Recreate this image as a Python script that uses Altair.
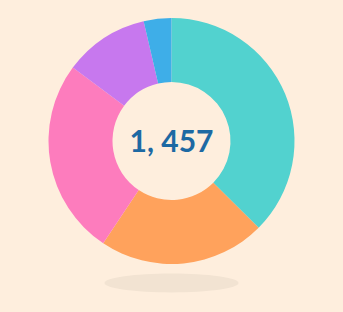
import altair as alt
import pandas as pd

# Segment values, clockwise from 12 o'clock
categories = ["A", "B", "C", "D", "E"]
values = [546, 319, 376, 163, 53]
colors = ["#52d2cf", "#ffa25c", "#fd7cbd", "#c778ee", "#3eaee8"]

BG = "#feeedd"
CX, CY = 171.5, 141
OUTER, INNER = 123, 59

df = pd.DataFrame({"cat": categories, "value": values, "idx": range(len(values))})
total = sum(values)
label = f"{total:,}".replace(",", ", ")

base = alt.Chart(df)

shadow = alt.Chart(pd.DataFrame({"k": [0]})).mark_point(
    shape="M-1,0A1,0.14 0 1,0 1,0A1,0.14 0 1,0 -1,0",
    filled=True, color="#f2e3d2", opacity=1, strokeWidth=0,
).encode(x=alt.value(CX), y=alt.value(283), size=alt.value(134 * 134))

donut = base.mark_arc(outerRadius=OUTER, innerRadius=INNER).encode(
    theta=alt.Theta("value:Q", stack=True),
    order=alt.Order("idx:Q"),
    color=alt.Color("cat:N", scale=alt.Scale(domain=categories, range=colors), legend=None),
    x=alt.value(CX),
    y=alt.value(CY),
)

center = alt.Chart(pd.DataFrame({"t": [label]})).mark_text(
    font="Lato", fontWeight="bold", fontSize=30, color="#1d69a3",
    align="center", baseline="middle",
).encode(text="t:N", x=alt.value(CX), y=alt.value(CY + 2))

chart = alt.layer(shadow, donut, center).properties(
    width=343, height=312, padding=0, background=BG,
    autosize=alt.AutoSizeParams(type="none"),
).configure_view(stroke=None)

chart.save("out.html", embed_options={"renderer": "svg", "actions": False})
